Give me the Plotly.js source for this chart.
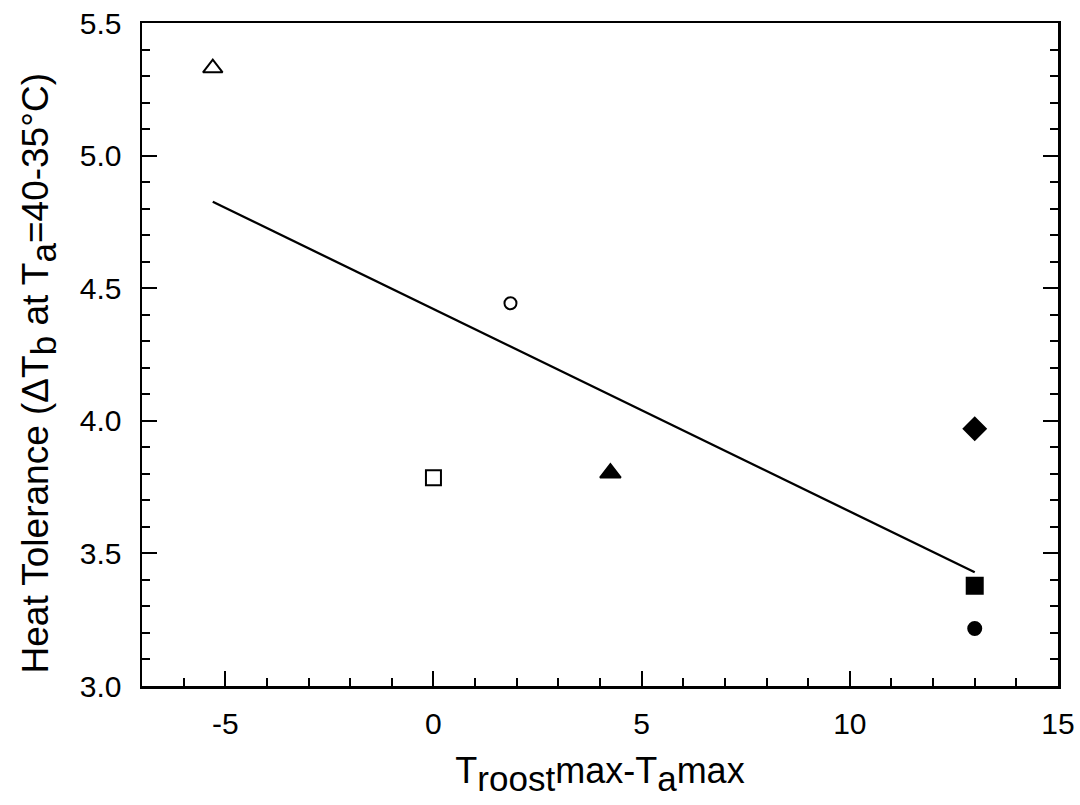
<!DOCTYPE html>
<html>
<head>
<meta charset="utf-8">
<script src="https://cdn.plot.ly/plotly-3.0.1.min.js"></script>
<style>
  html, body { margin: 0; padding: 0; background: #ffffff; }
  #chart { width: 1080px; height: 805px; }
</style>
</head>
<body>
<div id="chart"></div>
<script>
// Roost temperature excess vs. heat tolerance, one marker per species
const roostDiff = [-5.3, 0, 1.85, 4.25, 13, 13, 13];
const heatTol   = [5.33, 3.785, 4.443, 3.803, 3.97, 3.378, 3.217];
const symbols   = ['triangle-up-open', 'square-open', 'circle-open', 'triangle-up',
                   'diamond', 'square', 'circle'];
const sizes     = [17, 15, 12, 18, 17, 16, 13];

// Fitted regression line endpoints
const fitX = [-5.3, 13];
const fitY = [4.826, 3.429];

const xTicks = [-5, 0, 5, 10, 15];
const yTicks = [3.0, 3.5, 4.0, 4.5, 5.0, 5.5];

const FONT = 'Liberation Sans, Arial, sans-serif';

// full-size lowered text used in the axis titles
const sub = (s, px) => '<sub><span style="font-size:' + px + 'px">' + s + '</span></sub>';

const traces = [
  {
    x: fitX, y: fitY, type: 'scatter', mode: 'lines',
    line: {color: '#000000', width: 2.3},
    hoverinfo: 'skip'
  }
];
roostDiff.forEach((xv, i) => {
  traces.push({
    x: [xv], y: [heatTol[i]], type: 'scatter', mode: 'markers',
    marker: {
      symbol: symbols[i], size: sizes[i], color: '#000000',
      line: {color: '#000000', width: 2}
    }
  });
});

const layout = {
  width: 1080, height: 805,
  margin: {l: 142, r: 22, t: 23, b: 119},
  paper_bgcolor: '#ffffff', plot_bgcolor: '#ffffff',
  showlegend: false,
  font: {family: FONT, color: '#000000', size: 30},
  xaxis: {
    range: [-7, 15],
    tickvals: xTicks, ticktext: xTicks.map(String),
    ticks: 'inside', ticklen: 15, tickwidth: 2, tickcolor: '#000',
    minor: {dtick: 1, tick0: 0, ticks: 'inside', ticklen: 8, tickwidth: 2, tickcolor: '#000'},
    showline: true, linewidth: 2.5, linecolor: '#000', mirror: true,
    showgrid: false, zeroline: false,
    ticklabelstandoff: 9,
    tickfont: {family: FONT, size: 30, color: '#000'},
    title: {
      text: 'T' + sub('roost', 35) + 'max-T' + sub('a', 35) + 'max',
      font: {family: FONT, size: 36, color: '#000'},
      standoff: 20
    }
  },
  yaxis: {
    range: [3.0, 5.5],
    tickvals: yTicks, ticktext: yTicks.map(v => v.toFixed(1)),
    ticks: 'inside', ticklen: 15, tickwidth: 2, tickcolor: '#000',
    minor: {dtick: 0.1, tick0: 3.0, ticks: 'inside', ticklen: 8, tickwidth: 2, tickcolor: '#000'},
    showline: true, linewidth: 2.5, linecolor: '#000', mirror: 'ticks',
    showgrid: false, zeroline: false,
    ticklabelstandoff: 12,
    tickfont: {family: FONT, size: 30, color: '#000'}
  },
  annotations: [{
    // vertical axis title, set slightly below the plot's mid-height
    text: 'Heat Tolerance (\u0394T' + sub('b', 35) + ' at T' + sub('a', 35) + '=40-35\u00B0C)',
    font: {family: FONT, size: 37, color: '#000'},
    textangle: -90,
    xref: 'paper', yref: 'paper',
    x: -0.112, y: 0.472,
    xanchor: 'center', yanchor: 'middle',
    showarrow: false
  }]
};

Plotly.newPlot('chart', traces, layout, {displayModeBar: false, staticPlot: true});
</script>
</body>
</html>
